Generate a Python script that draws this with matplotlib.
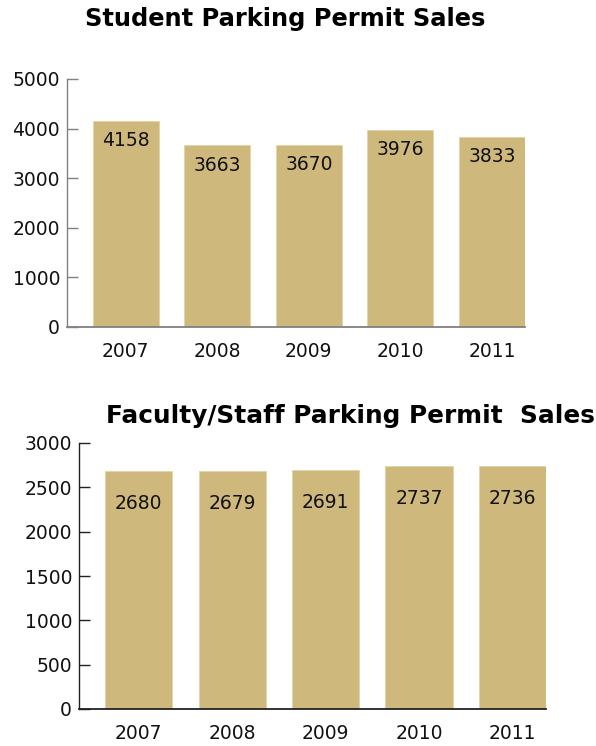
import matplotlib
matplotlib.use("Agg")
import matplotlib.pyplot as plt
import numpy as np

years = ['2007', '2008', '2009', '2010', '2011']
student_sales = [4158, 3663, 3670, 3976, 3833]
faculty_sales = [2680, 2679, 2691, 2737, 2736]

gold = '#CEB87C'
plt.rcParams['font.family'] = ['DejaVu Sans']

fig = plt.figure(figsize=(5.96, 7.46), dpi=100)
W, H = 596, 746


def make_axes(left, right, top, bottom):
    return fig.add_axes([left / W, 1 - bottom / H, (right - left) / W, (bottom - top) / H])


def draw(ax, values, ymax, step, axcol, label_off):
    x = np.arange(len(values))
    ax.bar(x, values, width=0.72, color=gold, edgecolor='#E2D3A8', linewidth=0.6)
    ax.set_xlim(-0.64, 4.36)
    ax.set_ylim(0, ymax)
    ax.set_yticks(np.arange(0, ymax + 1, step))
    ax.set_xticks(x)
    ax.set_xticklabels(years)
    for s in ['top', 'right']:
        ax.spines[s].set_visible(False)
    ax.spines['left'].set_color(axcol)
    ax.spines['bottom'].set_color(axcol)
    ax.spines['left'].set_linewidth(1.0)
    ax.spines['bottom'].set_linewidth(1.3)
    ax.tick_params(axis='y', direction='in', length=8, width=1, color=axcol,
                   labelsize=13.5, pad=5, labelcolor='#111111')
    ax.tick_params(axis='x', length=0, labelsize=13.5, pad=11, labelcolor='#111111')
    for xi, v in zip(x, values):
        ax.annotate(str(v), (xi, v), xytext=(0, -label_off), textcoords='offset pixels',
                    ha='center', va='center', fontsize=13.5, color='#111111')


ax1 = make_axes(67, 525, 79, 327)
draw(ax1, student_sales, 5000, 1000, '#808080', 20)

ax2 = make_axes(79, 546, 443, 709)
draw(ax2, faculty_sales, 3000, 500, '#222222', 32)

fig.text(285 / W, 1 - 19 / H, 'Student Parking Permit Sales', ha='center', va='center',
         fontsize=17.4, fontweight='bold')
fig.text(350 / W, 1 - 416 / H, 'Faculty/Staff Parking Permit  Sales', ha='center', va='center',
         fontsize=17.8, fontweight='bold')

fig.savefig('out.png', dpi=100)
